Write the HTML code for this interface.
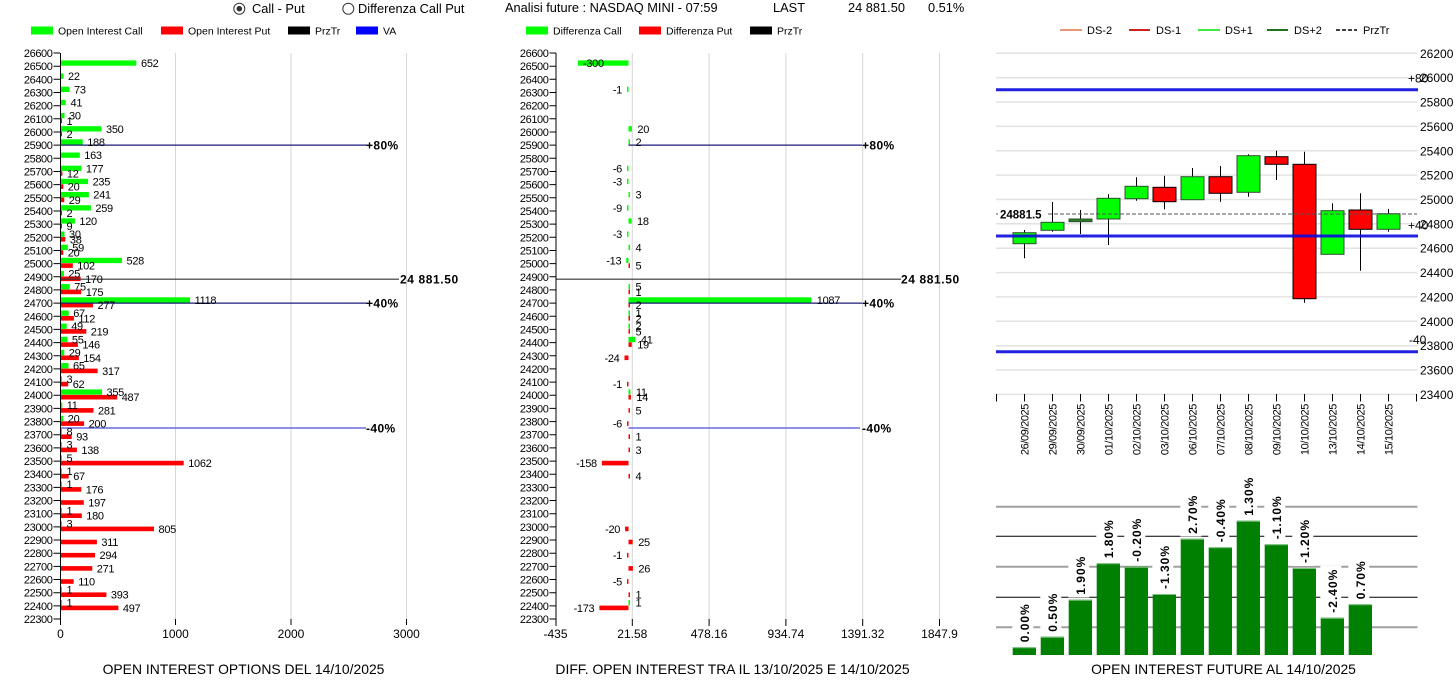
<!DOCTYPE html>
<html><head><meta charset="utf-8"><style>
html,body{margin:0;padding:0;background:#fff;overflow:hidden}
svg{display:block}
text{font-family:"Liberation Sans",Arial,sans-serif;fill:#000}
.yt{font-size:11px;letter-spacing:-0.4px;text-anchor:end}
.v{font-size:11px;letter-spacing:-0.3px}
.ve{font-size:11px;letter-spacing:-0.3px;text-anchor:end}
.xl{font-size:12px;text-anchor:middle}
.tt{font-size:13.9px;text-anchor:middle}
.lg{font-size:10.5px}
.hd{font-size:12.8px}
.pc{font-size:12px;font-weight:bold;letter-spacing:0.4px}
.pz{font-size:12px;font-weight:bold;letter-spacing:0.6px}
.ry{font-size:12px}
.dt{font-size:11px;letter-spacing:-0.4px;text-anchor:end}
.bl{font-size:12px;font-weight:bold;letter-spacing:1px}
</style></head><body>
<svg width="1456" height="681" viewBox="0 0 1456 681" xmlns="http://www.w3.org/2000/svg">
<rect width="1456" height="681" fill="#fff"/>

<!-- HEADER -->
<circle cx="239.3" cy="8.7" r="5.5" fill="#fff" stroke="#333" stroke-width="1"/>
<circle cx="239.3" cy="8.7" r="2.8" fill="#333"/>
<text class="hd" x="252" y="13">Call - Put</text>
<circle cx="348.3" cy="8.7" r="5.5" fill="#fff" stroke="#333" stroke-width="1"/>
<text class="hd" x="358" y="13">Differenza Call Put</text>
<text class="hd" x="505" y="12">Analisi future : NASDAQ MINI - 07:59</text>
<text class="hd" x="773" y="12">LAST</text>
<text class="hd" x="848" y="12">24 881.50</text>
<text class="hd" x="928" y="12">0.51%</text>

<!-- LEFT LEGEND -->
<rect x="31" y="26.5" width="22" height="8" fill="#00ff00"/>
<text class="lg" x="58" y="34.5">Open Interest Call</text>
<rect x="161" y="26.5" width="22" height="8" fill="#ff0000"/>
<text class="lg" x="188" y="34.5">Open Interest Put</text>
<rect x="288" y="26.5" width="22" height="8" fill="#000"/>
<text class="lg" x="315" y="34.5">PrzTr</text>
<rect x="356" y="26.5" width="22" height="8" fill="#0000ff"/>
<text class="lg" x="383" y="34.5">VA</text>

<!-- MIDDLE LEGEND -->
<rect x="526" y="26.5" width="22" height="8" fill="#00ff00"/>
<text class="lg" x="553" y="34.5">Differenza Call</text>
<rect x="639" y="26.5" width="22" height="8" fill="#ff0000"/>
<text class="lg" x="666" y="34.5">Differenza Put</text>
<rect x="750" y="26.5" width="22" height="8" fill="#000"/>
<text class="lg" x="777" y="34.5">PrzTr</text>

<!-- LEFT CHART GRID -->
<g stroke="#d6d6d6" stroke-width="1">
<line x1="175.5" y1="53" x2="175.5" y2="619"/>
<line x1="291" y1="53" x2="291" y2="619"/>
<line x1="406.5" y1="53" x2="406.5" y2="619"/>
</g>
<!-- MIDDLE GRID -->
<g stroke="#d6d6d6" stroke-width="1">
<line x1="632.3" y1="53" x2="632.3" y2="619"/>
<line x1="709.1" y1="53" x2="709.1" y2="619"/>
<line x1="785.9" y1="53" x2="785.9" y2="619"/>
<line x1="862.7" y1="53" x2="862.7" y2="619"/>
<line x1="939.5" y1="53" x2="939.5" y2="619"/>
</g>

<!-- LEFT BARS -->
<g fill="#00ff00">
<rect x="61" y="60.4" width="75.3" height="5.3"/>
<rect x="61" y="73.5" width="2.5" height="5.3"/>
<rect x="61" y="86.7" width="8.4" height="5.3"/>
<rect x="61" y="99.9" width="4.7" height="5.3"/>
<rect x="61" y="113" width="3.5" height="5.3"/>
<rect x="61" y="126.2" width="40.4" height="5.3"/>
<rect x="61" y="139.3" width="21.7" height="5.3"/>
<rect x="61" y="152.5" width="18.8" height="5.3"/>
<rect x="61" y="165.7" width="20.4" height="5.3"/>
<rect x="61" y="178.8" width="27.1" height="5.3"/>
<rect x="61" y="192" width="27.8" height="5.3"/>
<rect x="61" y="205.2" width="29.9" height="5.3"/>
<rect x="61" y="218.3" width="13.9" height="5.3"/>
<rect x="61" y="231.5" width="3.5" height="5.3"/>
<rect x="61" y="244.7" width="6.8" height="5.3"/>
<rect x="61" y="257.8" width="61" height="5.3"/>
<rect x="61" y="271" width="2.9" height="5.3"/>
<rect x="61" y="284.1" width="8.7" height="5.3"/>
<rect x="61" y="297.3" width="129.1" height="5.3"/>
<rect x="61" y="310.5" width="7.7" height="5.3"/>
<rect x="61" y="323.6" width="5.7" height="5.3"/>
<rect x="61" y="336.8" width="6.4" height="5.3"/>
<rect x="61" y="350" width="3.3" height="5.3"/>
<rect x="61" y="363.1" width="7.5" height="5.3"/>
<rect x="61" y="376.3" width="1" height="5.3"/>
<rect x="61" y="389.4" width="41" height="5.3"/>
<rect x="61" y="402.6" width="1.3" height="5.3"/>
<rect x="61" y="415.8" width="2.3" height="5.3"/>
<rect x="61" y="428.9" width="1" height="5.3"/>
<rect x="61" y="442.1" width="1" height="5.3"/>
<rect x="61" y="455.3" width="1" height="5.3"/>
<rect x="61" y="468.4" width="1" height="5.3"/>
<rect x="61" y="481.6" width="1" height="5.3"/>
<rect x="61" y="507.9" width="1" height="5.3"/>
<rect x="61" y="521.1" width="1" height="5.3"/>
<rect x="61" y="586.9" width="1" height="5.3"/>
<rect x="61" y="600.1" width="1" height="5.3"/>
</g>
<g fill="#ff0000">
<rect x="61" y="118.5" width="1" height="4.6"/>
<rect x="61" y="131.7" width="1" height="4.6"/>
<rect x="61" y="171.2" width="1.4" height="4.6"/>
<rect x="61" y="184.3" width="2.3" height="4.6"/>
<rect x="61" y="197.5" width="3.3" height="4.6"/>
<rect x="61" y="210.7" width="1" height="4.6"/>
<rect x="61" y="223.8" width="1" height="4.6"/>
<rect x="61" y="237" width="4.4" height="4.6"/>
<rect x="61" y="250.2" width="2.3" height="4.6"/>
<rect x="61" y="263.3" width="11.8" height="4.6"/>
<rect x="61" y="276.5" width="19.6" height="4.6"/>
<rect x="61" y="289.6" width="20.2" height="4.6"/>
<rect x="61" y="302.8" width="32" height="4.6"/>
<rect x="61" y="316" width="12.9" height="4.6"/>
<rect x="61" y="329.1" width="25.3" height="4.6"/>
<rect x="61" y="342.3" width="16.9" height="4.6"/>
<rect x="61" y="355.5" width="17.8" height="4.6"/>
<rect x="61" y="368.6" width="36.6" height="4.6"/>
<rect x="61" y="381.8" width="7.2" height="4.6"/>
<rect x="61" y="394.9" width="56.2" height="4.6"/>
<rect x="61" y="408.1" width="32.5" height="4.6"/>
<rect x="61" y="421.3" width="23.1" height="4.6"/>
<rect x="61" y="434.4" width="10.7" height="4.6"/>
<rect x="61" y="447.6" width="15.9" height="4.6"/>
<rect x="61" y="460.8" width="122.7" height="4.6"/>
<rect x="61" y="473.9" width="7.7" height="4.6"/>
<rect x="61" y="487.1" width="20.3" height="4.6"/>
<rect x="61" y="500.2" width="22.8" height="4.6"/>
<rect x="61" y="513.4" width="20.8" height="4.6"/>
<rect x="61" y="526.6" width="93" height="4.6"/>
<rect x="61" y="539.7" width="35.9" height="4.6"/>
<rect x="61" y="552.9" width="34" height="4.6"/>
<rect x="61" y="566.1" width="31.3" height="4.6"/>
<rect x="61" y="579.2" width="12.7" height="4.6"/>
<rect x="61" y="592.4" width="45.4" height="4.6"/>
<rect x="61" y="605.6" width="57.4" height="4.6"/>
</g>

<!-- LEFT LINES -->
<line x1="61" y1="145.1" x2="367" y2="145.1" stroke="#1c1c7a" stroke-width="1.3"/>
<text class="pc" x="366" y="149.6">+80%</text>
<line x1="61" y1="279.2" x2="399" y2="279.2" stroke="#333" stroke-width="1.2"/>
<text class="pz" x="400" y="283.7">24 881.50</text>
<line x1="61" y1="303.1" x2="367" y2="303.1" stroke="#1c1c7a" stroke-width="1.3"/>
<text class="pc" x="366" y="307.6">+40%</text>
<line x1="61" y1="428" x2="366" y2="428" stroke="#6a6ae0" stroke-width="1.6"/>
<text class="pc" x="366" y="432.5">-40%</text>

<!-- LEFT VALUE LABELS -->
<g class="v">
<text x="141" y="67">652</text>
<text x="68" y="80.1">22</text>
<text x="74" y="93.3">73</text>
<text x="70.5" y="106.5">41</text>
<text x="69" y="119.6">30</text><text x="66.5" y="124.8">1</text>
<text x="106" y="132.8">350</text><text x="66.5" y="138">2</text>
<text x="87.2" y="145.9">188</text>
<text x="84.3" y="159.1">163</text>
<text x="85.9" y="172.3">177</text><text x="66.9" y="177.5">12</text>
<text x="92.6" y="185.4">235</text><text x="67.8" y="190.6">20</text>
<text x="93.3" y="198.6">241</text><text x="68.8" y="203.8">29</text>
<text x="95.4" y="211.8">259</text><text x="66.5" y="217">2</text>
<text x="79.4" y="224.9">120</text><text x="66.5" y="230.1">9</text>
<text x="69" y="238.1">30</text><text x="69.9" y="243.3">38</text>
<text x="72.3" y="251.3">59</text><text x="67.8" y="256.5">20</text>
<text x="126.5" y="264.4">528</text><text x="77.3" y="269.6">102</text>
<text x="68.4" y="277.6">25</text><text x="85.1" y="282.8">170</text>
<text x="74.2" y="290.7">75</text><text x="85.7" y="295.9">175</text>
<text x="194.6" y="303.9">1118</text><text x="97.5" y="309.1">277</text>
<text x="73.2" y="317.1">67</text><text x="78.4" y="322.3">112</text>
<text x="71.2" y="330.2">49</text><text x="90.8" y="335.4">219</text>
<text x="71.9" y="343.4">55</text><text x="82.4" y="348.6">146</text>
<text x="68.8" y="356.6">29</text><text x="83.3" y="361.8">154</text>
<text x="73" y="369.7">65</text><text x="102.1" y="374.9">317</text>
<text x="66.5" y="382.9">3</text><text x="72.7" y="388.1">62</text>
<text x="106.5" y="396">355</text><text x="121.7" y="401.2">487</text>
<text x="66.8" y="409.2">11</text><text x="98" y="414.4">281</text>
<text x="67.8" y="422.4">20</text><text x="88.6" y="427.6">200</text>
<text x="66.5" y="435.5">8</text><text x="76.2" y="440.7">93</text>
<text x="66.5" y="448.7">3</text><text x="81.4" y="453.9">138</text>
<text x="66.5" y="461.9">5</text><text x="188.2" y="467.1">1062</text>
<text x="66.5" y="475">1</text><text x="73.2" y="480.2">67</text>
<text x="66.5" y="488.2">1</text><text x="85.8" y="493.4">176</text>
<text x="88.3" y="506.5">197</text>
<text x="66.5" y="514.5">1</text><text x="86.3" y="519.7">180</text>
<text x="66.5" y="527.7">3</text><text x="158.5" y="532.9">805</text>
<text x="101.4" y="546">311</text>
<text x="99.5" y="559.2">294</text>
<text x="96.8" y="572.4">271</text>
<text x="78.2" y="585.5">110</text>
<text x="66.5" y="593.5">1</text><text x="110.9" y="598.7">393</text>
<text x="66.5" y="606.7">1</text><text x="122.9" y="611.9">497</text>
</g>

<!-- LEFT AXIS -->
<line x1="60.5" y1="53" x2="60.5" y2="625" stroke="#000" stroke-width="1"/>
<path d="M53.5 53H60M53.5 66.2H60M53.5 79.3H60M53.5 92.5H60M53.5 105.7H60M53.5 118.8H60M53.5 132H60M53.5 145.1H60M53.5 158.3H60M53.5 171.5H60M53.5 184.6H60M53.5 197.8H60M53.5 211H60M53.5 224.1H60M53.5 237.3H60M53.5 250.5H60M53.5 263.6H60M53.5 276.8H60M53.5 289.9H60M53.5 303.1H60M53.5 316.3H60M53.5 329.4H60M53.5 342.6H60M53.5 355.8H60M53.5 368.9H60M53.5 382.1H60M53.5 395.2H60M53.5 408.4H60M53.5 421.6H60M53.5 434.7H60M53.5 447.9H60M53.5 461.1H60M53.5 474.2H60M53.5 487.4H60M53.5 500.5H60M53.5 513.7H60M53.5 526.9H60M53.5 540H60M53.5 553.2H60M53.5 566.4H60M53.5 579.5H60M53.5 592.7H60M53.5 605.9H60M53.5 619H60M175.5 619V625M291 619V625M406.5 619V625" stroke="#000" stroke-width="1" fill="none"/>
<g class="yt">
<text x="52.5" y="57">26600</text><text x="52.5" y="70.2">26500</text><text x="52.5" y="83.3">26400</text><text x="52.5" y="96.5">26300</text><text x="52.5" y="109.7">26200</text><text x="52.5" y="122.8">26100</text><text x="52.5" y="136">26000</text><text x="52.5" y="149.1">25900</text><text x="52.5" y="162.3">25800</text><text x="52.5" y="175.5">25700</text><text x="52.5" y="188.6">25600</text><text x="52.5" y="201.8">25500</text><text x="52.5" y="215">25400</text><text x="52.5" y="228.1">25300</text><text x="52.5" y="241.3">25200</text><text x="52.5" y="254.5">25100</text><text x="52.5" y="267.6">25000</text><text x="52.5" y="280.8">24900</text><text x="52.5" y="293.9">24800</text><text x="52.5" y="307.1">24700</text><text x="52.5" y="320.3">24600</text><text x="52.5" y="333.4">24500</text><text x="52.5" y="346.6">24400</text><text x="52.5" y="359.8">24300</text><text x="52.5" y="372.9">24200</text><text x="52.5" y="386.1">24100</text><text x="52.5" y="399.2">24000</text><text x="52.5" y="412.4">23900</text><text x="52.5" y="425.6">23800</text><text x="52.5" y="438.7">23700</text><text x="52.5" y="451.9">23600</text><text x="52.5" y="465.1">23500</text><text x="52.5" y="478.2">23400</text><text x="52.5" y="491.4">23300</text><text x="52.5" y="504.5">23200</text><text x="52.5" y="517.7">23100</text><text x="52.5" y="530.9">23000</text><text x="52.5" y="544">22900</text><text x="52.5" y="557.2">22800</text><text x="52.5" y="570.4">22700</text><text x="52.5" y="583.5">22600</text><text x="52.5" y="596.7">22500</text><text x="52.5" y="609.9">22400</text><text x="52.5" y="623">22300</text>
</g>
<g class="xl">
<text x="60.5" y="638">0</text><text x="175.5" y="638">1000</text><text x="291" y="638">2000</text><text x="406.5" y="638">3000</text>
</g>
<text class="tt" x="243.5" y="674">OPEN INTEREST OPTIONS DEL 14/10/2025</text>

<!-- MIDDLE BARS -->
<g fill="#00ff00">
<rect x="578" y="60.4" width="50.5" height="5.3"/>
<rect x="627" y="86.7" width="1.5" height="5.3"/>
<rect x="628.5" y="126.2" width="3.4" height="5.3"/>
<rect x="628.5" y="139.3" width="1.5" height="5.3"/>
<rect x="627" y="165.7" width="1.5" height="5.3"/>
<rect x="627" y="178.8" width="1.5" height="5.3"/>
<rect x="628.5" y="192" width="1.5" height="5.3"/>
<rect x="627" y="205.2" width="1.5" height="5.3"/>
<rect x="628.5" y="218.3" width="3" height="5.3"/>
<rect x="627" y="231.5" width="1.5" height="5.3"/>
<rect x="628.5" y="244.7" width="1.5" height="5.3"/>
<rect x="626.3" y="257.8" width="2.2" height="5.3"/>
<rect x="628.5" y="284.1" width="1.5" height="5.3"/>
<rect x="628.5" y="297.3" width="182.8" height="5.3"/>
<rect x="628.5" y="310.5" width="1.5" height="5.3"/>
<rect x="628.5" y="323.6" width="1.5" height="5.3"/>
<rect x="628.5" y="336.8" width="6.9" height="5.3"/>
<rect x="628.5" y="389.4" width="1.9" height="5.3"/>
<rect x="628.5" y="600.1" width="1.5" height="5.3"/>
</g>
<g fill="#ff0000">
<rect x="628.5" y="263.3" width="1.5" height="4.6"/>
<rect x="628.5" y="289.6" width="1.5" height="4.6"/>
<rect x="628.5" y="302.8" width="1.5" height="4.6"/>
<rect x="628.5" y="316" width="1.5" height="4.6"/>
<rect x="628.5" y="329.1" width="1.5" height="4.6"/>
<rect x="628.5" y="342.3" width="3.2" height="4.6"/>
<rect x="624.5" y="355.5" width="4" height="4.6"/>
<rect x="627" y="381.8" width="1.5" height="4.6"/>
<rect x="628.5" y="394.9" width="2.4" height="4.6"/>
<rect x="628.5" y="408.1" width="1.5" height="4.6"/>
<rect x="627" y="421.3" width="1.5" height="4.6"/>
<rect x="628.5" y="434.4" width="1.5" height="4.6"/>
<rect x="628.5" y="447.6" width="1.5" height="4.6"/>
<rect x="601.9" y="460.8" width="26.6" height="4.6"/>
<rect x="628.5" y="473.9" width="1.5" height="4.6"/>
<rect x="625.1" y="526.6" width="3.4" height="4.6"/>
<rect x="628.5" y="539.7" width="4.2" height="4.6"/>
<rect x="627" y="552.9" width="1.5" height="4.6"/>
<rect x="628.5" y="566.1" width="4.4" height="4.6"/>
<rect x="627" y="579.2" width="1.5" height="4.6"/>
<rect x="628.5" y="592.4" width="1.5" height="4.6"/>
<rect x="599.4" y="605.6" width="29.1" height="4.6"/>
</g>

<!-- MIDDLE LINES -->
<line x1="628.5" y1="145.1" x2="862" y2="145.1" stroke="#1c1c7a" stroke-width="1.3"/>
<text class="pc" x="862" y="149.6">+80%</text>
<line x1="556" y1="279.2" x2="901" y2="279.2" stroke="#333" stroke-width="1.2"/>
<text class="pz" x="901" y="283.7">24 881.50</text>
<line x1="628.5" y1="303.1" x2="862" y2="303.1" stroke="#1c1c7a" stroke-width="1.3"/>
<text class="pc" x="862" y="307.6">+40%</text>
<line x1="628.5" y1="428" x2="860" y2="428" stroke="#6a6ae0" stroke-width="1.6"/>
<text class="pc" x="862" y="432.5">-40%</text>

<!-- MIDDLE VALUE LABELS -->
<g class="v">
<text x="583" y="67">-300</text>
<text x="637.4" y="132.8">20</text>
<text x="635.5" y="145.9">2</text>
<text x="635.5" y="198.6">3</text>
<text x="637" y="224.9">18</text>
<text x="635.5" y="251.3">4</text>
<text x="635.5" y="269.6">5</text>
<text x="635.5" y="290.7">5</text><text x="635.5" y="295.9">1</text>
<text x="816.8" y="303.9">1087</text><text x="635.5" y="309.1">2</text>
<text x="635.5" y="317.1">1</text><text x="635.5" y="322.3">2</text>
<text x="635.5" y="330.2">2</text><text x="635.5" y="335.4">5</text>
<text x="640.9" y="343.4">41</text><text x="637.2" y="348.6">19</text>
<text x="635.9" y="396">11</text><text x="636.4" y="401.2">14</text>
<text x="635.5" y="414.4">5</text>
<text x="635.5" y="440.7">1</text>
<text x="635.5" y="453.9">3</text>
<text x="635.5" y="480.2">4</text>
<text x="638.2" y="546">25</text>
<text x="638.4" y="572.4">26</text>
<text x="635.5" y="598.7">1</text>
<text x="635.5" y="606.7">1</text>
</g>
<g class="ve">
<text x="622" y="93.3">-1</text>
<text x="622" y="172.3">-6</text>
<text x="622" y="185.4">-3</text>
<text x="622" y="211.8">-9</text>
<text x="622" y="238.1">-3</text>
<text x="621.3" y="264.4">-13</text>
<text x="619.5" y="361.8">-24</text>
<text x="622" y="388.1">-1</text>
<text x="622" y="427.6">-6</text>
<text x="596.9" y="467.1">-158</text>
<text x="620.1" y="532.9">-20</text>
<text x="622" y="559.2">-1</text>
<text x="622" y="585.5">-5</text>
<text x="594.4" y="611.9">-173</text>
</g>

<!-- MIDDLE AXIS -->
<line x1="556" y1="53" x2="556" y2="626" stroke="#000" stroke-width="1"/>
<path d="M549.5 53H556M549.5 66.2H556M549.5 79.3H556M549.5 92.5H556M549.5 105.7H556M549.5 118.8H556M549.5 132H556M549.5 145.1H556M549.5 158.3H556M549.5 171.5H556M549.5 184.6H556M549.5 197.8H556M549.5 211H556M549.5 224.1H556M549.5 237.3H556M549.5 250.5H556M549.5 263.6H556M549.5 276.8H556M549.5 289.9H556M549.5 303.1H556M549.5 316.3H556M549.5 329.4H556M549.5 342.6H556M549.5 355.8H556M549.5 368.9H556M549.5 382.1H556M549.5 395.2H556M549.5 408.4H556M549.5 421.6H556M549.5 434.7H556M549.5 447.9H556M549.5 461.1H556M549.5 474.2H556M549.5 487.4H556M549.5 500.5H556M549.5 513.7H556M549.5 526.9H556M549.5 540H556M549.5 553.2H556M549.5 566.4H556M549.5 579.5H556M549.5 592.7H556M549.5 605.9H556M549.5 619H556M632.3 619V626M709.1 619V626M785.9 619V626M862.7 619V626M939.5 619V626" stroke="#000" stroke-width="1" fill="none"/>
<g class="yt">
<text x="548.5" y="57">26600</text><text x="548.5" y="70.2">26500</text><text x="548.5" y="83.3">26400</text><text x="548.5" y="96.5">26300</text><text x="548.5" y="109.7">26200</text><text x="548.5" y="122.8">26100</text><text x="548.5" y="136">26000</text><text x="548.5" y="149.1">25900</text><text x="548.5" y="162.3">25800</text><text x="548.5" y="175.5">25700</text><text x="548.5" y="188.6">25600</text><text x="548.5" y="201.8">25500</text><text x="548.5" y="215">25400</text><text x="548.5" y="228.1">25300</text><text x="548.5" y="241.3">25200</text><text x="548.5" y="254.5">25100</text><text x="548.5" y="267.6">25000</text><text x="548.5" y="280.8">24900</text><text x="548.5" y="293.9">24800</text><text x="548.5" y="307.1">24700</text><text x="548.5" y="320.3">24600</text><text x="548.5" y="333.4">24500</text><text x="548.5" y="346.6">24400</text><text x="548.5" y="359.8">24300</text><text x="548.5" y="372.9">24200</text><text x="548.5" y="386.1">24100</text><text x="548.5" y="399.2">24000</text><text x="548.5" y="412.4">23900</text><text x="548.5" y="425.6">23800</text><text x="548.5" y="438.7">23700</text><text x="548.5" y="451.9">23600</text><text x="548.5" y="465.1">23500</text><text x="548.5" y="478.2">23400</text><text x="548.5" y="491.4">23300</text><text x="548.5" y="504.5">23200</text><text x="548.5" y="517.7">23100</text><text x="548.5" y="530.9">23000</text><text x="548.5" y="544">22900</text><text x="548.5" y="557.2">22800</text><text x="548.5" y="570.4">22700</text><text x="548.5" y="583.5">22600</text><text x="548.5" y="596.7">22500</text><text x="548.5" y="609.9">22400</text><text x="548.5" y="623">22300</text>
</g>
<g class="xl">
<text x="555.5" y="638">-435</text><text x="632.3" y="638">21.58</text><text x="709.1" y="638">478.16</text><text x="785.9" y="638">934.74</text><text x="862.7" y="638">1391.32</text><text x="939.5" y="638">1847.9</text>
</g>
<text class="tt" x="732.5" y="674">DIFF. OPEN INTEREST TRA IL 13/10/2025 E 14/10/2025</text>

<!-- RIGHT LEGEND -->
<line x1="1060" y1="30" x2="1082" y2="30" stroke="#e9967a" stroke-width="2"/>
<text class="lg" style="font-size:11px" x="1087" y="34">DS-2</text>
<line x1="1129" y1="30" x2="1150" y2="30" stroke="#d02020" stroke-width="2"/>
<text class="lg" style="font-size:11px" x="1156" y="34">DS-1</text>
<line x1="1198" y1="30" x2="1220" y2="30" stroke="#40e840" stroke-width="2"/>
<text class="lg" style="font-size:11px" x="1225" y="34">DS+1</text>
<line x1="1267" y1="30" x2="1288" y2="30" stroke="#207020" stroke-width="2"/>
<text class="lg" style="font-size:11px" x="1294" y="34">DS+2</text>
<line x1="1336" y1="30" x2="1357" y2="30" stroke="#000" stroke-width="1.5" stroke-dasharray="4 2"/>
<text class="lg" style="font-size:11px" x="1363" y="34">PrzTr</text>

<!-- RIGHT CANDLE GRID -->
<g stroke="#e2e2e2" stroke-width="1.5">
<line x1="996" y1="53.3" x2="1417.5" y2="53.3"/>
<line x1="996" y1="77.7" x2="1417.5" y2="77.7"/>
<line x1="996" y1="102" x2="1417.5" y2="102"/>
<line x1="996" y1="126.4" x2="1417.5" y2="126.4"/>
<line x1="996" y1="150.8" x2="1417.5" y2="150.8"/>
<line x1="996" y1="175.1" x2="1417.5" y2="175.1"/>
<line x1="996" y1="199.5" x2="1417.5" y2="199.5"/>
<line x1="996" y1="223.8" x2="1417.5" y2="223.8"/>
<line x1="996" y1="248.2" x2="1417.5" y2="248.2"/>
<line x1="996" y1="272.6" x2="1417.5" y2="272.6"/>
<line x1="996" y1="296.9" x2="1417.5" y2="296.9"/>
<line x1="996" y1="321.3" x2="1417.5" y2="321.3"/>
<line x1="996" y1="345.7" x2="1417.5" y2="345.7"/>
<line x1="996" y1="370" x2="1417.5" y2="370"/>
<line x1="996" y1="394.4" x2="1417.5" y2="394.4"/>
</g>
<g class="ry">
<text x="1420" y="57.8">26200</text><text x="1420" y="82.2">26000</text><text x="1420" y="106.5">25800</text><text x="1420" y="130.9">25600</text><text x="1420" y="155.3">25400</text><text x="1420" y="179.6">25200</text><text x="1420" y="204">25000</text><text x="1420" y="228.3">24800</text><text x="1420" y="252.7">24600</text><text x="1420" y="277.1">24400</text><text x="1420" y="301.4">24200</text><text x="1420" y="325.8">24000</text><text x="1420" y="350.2">23800</text><text x="1420" y="374.5">23600</text><text x="1420" y="398.9">23400</text>
</g>

<!-- CANDLES -->
<g stroke="#000" stroke-width="1">
<line x1="1024.5" y1="230" x2="1024.5" y2="258.3"/>
<line x1="1052.5" y1="202" x2="1052.5" y2="231.7"/>
<line x1="1080.5" y1="210" x2="1080.5" y2="234"/>
<line x1="1108.5" y1="194.3" x2="1108.5" y2="245"/>
<line x1="1136.5" y1="177.3" x2="1136.5" y2="200.7"/>
<line x1="1164.5" y1="175.7" x2="1164.5" y2="209.3"/>
<line x1="1192.5" y1="168" x2="1192.5" y2="199.7"/>
<line x1="1220.5" y1="166" x2="1220.5" y2="201.7"/>
<line x1="1248.5" y1="154.3" x2="1248.5" y2="196.7"/>
<line x1="1276.5" y1="150.7" x2="1276.5" y2="180"/>
<line x1="1304.5" y1="151.7" x2="1304.5" y2="302.7"/>
<line x1="1332.5" y1="203.3" x2="1332.5" y2="254.3"/>
<line x1="1360.5" y1="193.3" x2="1360.5" y2="270.7"/>
<line x1="1388.5" y1="209" x2="1388.5" y2="231.7"/>
</g>
<g fill="#00ff00" stroke="#2f4f2f" stroke-width="1">
<rect x="1013" y="232.7" width="23" height="11"/>
<rect x="1041" y="222.3" width="23" height="8"/>
<rect x="1069" y="219" width="23" height="2.7" fill="#2a7a2a"/>
<rect x="1097" y="198.3" width="23" height="20.7"/>
<rect x="1125" y="186.3" width="23" height="12.4"/>
<rect x="1181" y="176.7" width="23" height="23"/>
<rect x="1237" y="155.7" width="23" height="36.6"/>
<rect x="1321" y="210.7" width="23" height="43.6"/>
<rect x="1377" y="213.7" width="23" height="15.6"/>
</g>
<g fill="#ff0000" stroke="#000" stroke-width="1">
<rect x="1153" y="187.3" width="23" height="14.4"/>
<rect x="1209" y="176.7" width="23" height="16.6"/>
<rect x="1265" y="156.7" width="23" height="7.6"/>
<rect x="1293" y="164.3" width="23" height="134.4"/>
<rect x="1349" y="210" width="23" height="19.3"/>
</g>

<!-- BLUE LEVELS -->
<g stroke="#0a0adc" stroke-width="3" opacity="0.9">
<line x1="996" y1="89.8" x2="1418" y2="89.8"/>
<line x1="996" y1="236" x2="1418" y2="236"/>
<line x1="996" y1="351.8" x2="1418" y2="351.8"/>
</g>
<text class="ry" x="1408" y="82.5">+80</text>
<text class="ry" x="1408" y="229.5">+40</text>
<text class="ry" x="1409" y="344">-40</text>

<!-- PRZTR DASHED -->
<line x1="1048" y1="214" x2="1417" y2="214" stroke="#555" stroke-width="1" stroke-dasharray="4 2"/>
<line x1="996" y1="214" x2="998" y2="214" stroke="#555" stroke-width="1"/>
<text x="1000" y="218.3" style="font-size:11.5px;font-weight:bold">24881.5</text>

<!-- X AXIS TICKS -->
<path d="M996.5 394V401.5M1024.5 394V401.5M1052.5 394V401.5M1080.5 394V401.5M1108.5 394V401.5M1136.5 394V401.5M1164.5 394V401.5M1192.5 394V401.5M1220.5 394V401.5M1248.5 394V401.5M1276.5 394V401.5M1304.5 394V401.5M1332.5 394V401.5M1360.5 394V401.5M1388.5 394V401.5M1416.5 394V401.5" stroke="#000" stroke-width="1" fill="none"/>
<g class="dt">
<text transform="translate(1028.5,404) rotate(-90)">26/09/2025</text>
<text transform="translate(1056.5,404) rotate(-90)">29/09/2025</text>
<text transform="translate(1084.5,404) rotate(-90)">30/09/2025</text>
<text transform="translate(1112.5,404) rotate(-90)">01/10/2025</text>
<text transform="translate(1140.5,404) rotate(-90)">02/10/2025</text>
<text transform="translate(1168.5,404) rotate(-90)">03/10/2025</text>
<text transform="translate(1196.5,404) rotate(-90)">06/10/2025</text>
<text transform="translate(1224.5,404) rotate(-90)">07/10/2025</text>
<text transform="translate(1252.5,404) rotate(-90)">08/10/2025</text>
<text transform="translate(1280.5,404) rotate(-90)">09/10/2025</text>
<text transform="translate(1308.5,404) rotate(-90)">10/10/2025</text>
<text transform="translate(1336.5,404) rotate(-90)">13/10/2025</text>
<text transform="translate(1364.5,404) rotate(-90)">14/10/2025</text>
<text transform="translate(1392.5,404) rotate(-90)">15/10/2025</text>
</g>

<!-- BOTTOM BAR CHART GRID -->
<g stroke="#a0a0a0" stroke-width="2">
<line x1="996" y1="506.7" x2="1417.5" y2="506.7"/>
<line x1="996" y1="566.7" x2="1417.5" y2="566.7"/>
<line x1="996" y1="627.3" x2="1417.5" y2="627.3"/>
</g>
<g stroke="#000" stroke-width="1">
<line x1="996" y1="536.3" x2="1417.5" y2="536.3"/>
<line x1="996" y1="597.3" x2="1417.5" y2="597.3"/>
</g>
<!-- label backgrounds -->
<g fill="#fff">
<rect x="1012.3" y="601" width="21" height="44"/>
<rect x="1040.3" y="590.4" width="21" height="44"/>
<rect x="1068.3" y="553.4" width="21" height="44"/>
<rect x="1096.3" y="517" width="21" height="44"/>
<rect x="1124.3" y="514.7" width="21" height="50"/>
<rect x="1152.3" y="542" width="21" height="50"/>
<rect x="1180.3" y="492.4" width="21" height="44"/>
<rect x="1208.3" y="495.3" width="21" height="50"/>
<rect x="1236.3" y="474.4" width="21" height="44"/>
<rect x="1264.3" y="492.3" width="21" height="50"/>
<rect x="1292.3" y="516" width="21" height="50"/>
<rect x="1320.3" y="565.7" width="21" height="50"/>
<rect x="1348.3" y="558" width="21" height="44"/>
</g>
<g fill="#008000">
<rect x="1012.7" y="647.3" width="23.3" height="7.7"/>
<rect x="1040.7" y="636.7" width="23.3" height="18.3"/>
<rect x="1068.7" y="599.7" width="23.3" height="55.3"/>
<rect x="1096.7" y="563.3" width="23.3" height="91.7"/>
<rect x="1124.7" y="566.7" width="23.3" height="88.3"/>
<rect x="1152.7" y="594" width="23.3" height="61"/>
<rect x="1180.7" y="538.7" width="23.3" height="116.3"/>
<rect x="1208.7" y="547.3" width="23.3" height="107.7"/>
<rect x="1236.7" y="520.7" width="23.3" height="134.3"/>
<rect x="1264.7" y="544.3" width="23.3" height="110.7"/>
<rect x="1292.7" y="568" width="23.3" height="87"/>
<rect x="1320.7" y="617.7" width="23.3" height="37.3"/>
<rect x="1348.7" y="604.3" width="23.3" height="50.7"/>
</g>
<g stroke="#80c080" stroke-width="1">
<line x1="1012.7" y1="647.8" x2="1036" y2="647.8"/>
<line x1="1040.7" y1="637.2" x2="1064" y2="637.2"/>
<line x1="1068.7" y1="600.2" x2="1092" y2="600.2"/>
<line x1="1096.7" y1="563.8" x2="1120" y2="563.8"/>
<line x1="1124.7" y1="567.2" x2="1148" y2="567.2"/>
<line x1="1152.7" y1="594.5" x2="1176" y2="594.5"/>
<line x1="1180.7" y1="539.2" x2="1204" y2="539.2"/>
<line x1="1208.7" y1="547.8" x2="1232" y2="547.8"/>
<line x1="1236.7" y1="521.2" x2="1260" y2="521.2"/>
<line x1="1264.7" y1="544.8" x2="1288" y2="544.8"/>
<line x1="1292.7" y1="568.5" x2="1316" y2="568.5"/>
<line x1="1320.7" y1="618.2" x2="1344" y2="618.2"/>
<line x1="1348.7" y1="604.8" x2="1372" y2="604.8"/>
</g>
<g class="bl">
<text transform="translate(1028.8,642.3) rotate(-90)">0.00%</text>
<text transform="translate(1056.8,631.7) rotate(-90)">0.50%</text>
<text transform="translate(1084.8,594.7) rotate(-90)">1.90%</text>
<text transform="translate(1112.8,558.3) rotate(-90)">1.80%</text>
<text transform="translate(1140.8,561.7) rotate(-90)">-0.20%</text>
<text transform="translate(1168.8,589) rotate(-90)">-1.30%</text>
<text transform="translate(1196.8,533.7) rotate(-90)">2.70%</text>
<text transform="translate(1224.8,542.3) rotate(-90)">-0.40%</text>
<text transform="translate(1252.8,515.7) rotate(-90)">1.30%</text>
<text transform="translate(1280.8,539.3) rotate(-90)">-1.10%</text>
<text transform="translate(1308.8,563) rotate(-90)">-1.20%</text>
<text transform="translate(1336.8,612.7) rotate(-90)">-2.40%</text>
<text transform="translate(1364.8,599.3) rotate(-90)">0.70%</text>
</g>
<text class="tt" x="1223.5" y="674">OPEN INTEREST FUTURE AL 14/10/2025</text>
</svg>
</body></html>
